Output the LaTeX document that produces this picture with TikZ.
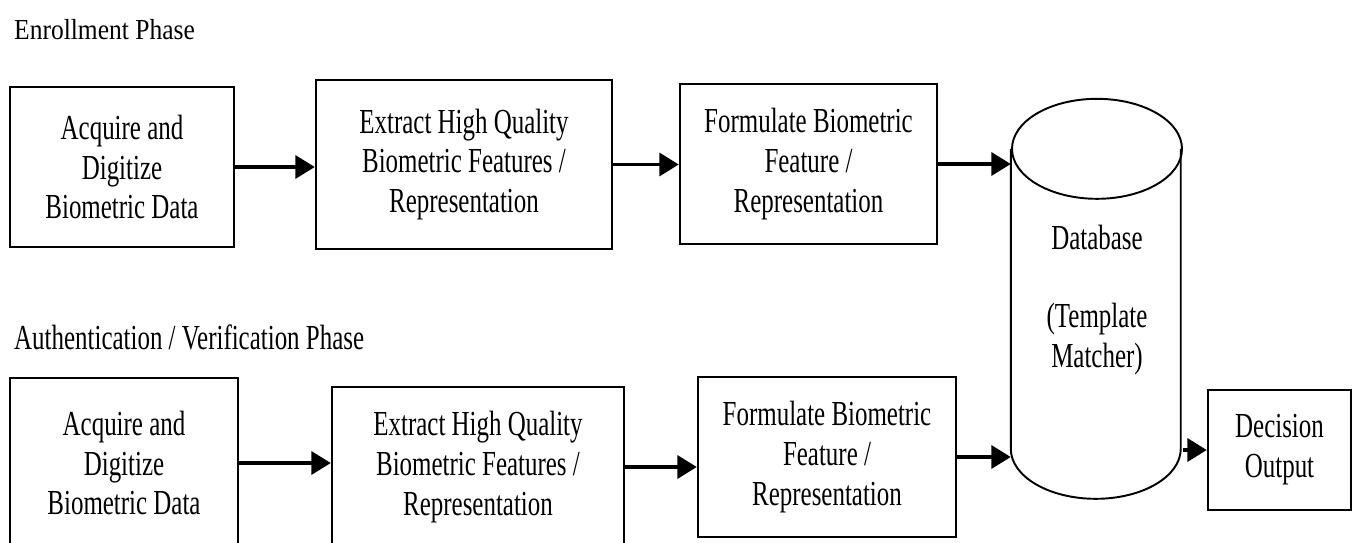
\documentclass[tikz,border=0pt]{standalone}
\usepackage{fontspec}
\setmainfont[FakeStretch=0.71]{Liberation Serif}
\newfontfamily\phasefont[FakeStretch=0.88]{Liberation Serif}
\usepackage{tikz}
\usetikzlibrary{arrows.meta}

\begin{document}
\begin{tikzpicture}[x=0.02cm, y=-0.02cm, main/.style={rectangle, draw, line width=1.4pt, inner sep=0pt, align=center, font=\fontsize{20}{22.7}\selectfont}, arr/.style={-{Triangle[length=11pt, width=13pt]}, line width=2pt}]
        \useasboundingbox (0,0) rectangle (1356,542);
        \node[anchor=west, font=\phasefont\fontsize{16.5}{19}\selectfont] (enroll) at (8,30) {Enrollment Phase};
        \node[anchor=west, font=\fontsize{20}{22.7}\selectfont] (auth) at (8,337) {Authentication / Verification Phase};
        % enrollment row
        \node[main, minimum width=4.48cm, minimum height=3.2cm] (acq1) at (122,167) {Acquire and\\Digitize\\Biometric Data};
        \node[main, minimum width=5.92cm, minimum height=3.38cm] (ext1) at (464,164.5) {Extract High Quality\\Biometric Features /\\Representation};
        \node[main, minimum width=5.14cm, minimum height=3.2cm] (form1) at (808.5,164) {Formulate Biometric\\Feature /\\Representation};
        % verification row
        \node[main, minimum width=4.56cm, minimum height=3.4cm] (acq2) at (124,463) {Acquire and\\Digitize\\Biometric Data};
        \node[main, minimum width=5.84cm, minimum height=3.2cm] (ext2) at (478,467) {Extract High Quality\\Biometric Features /\\Representation};
        \node[main, minimum width=5.16cm, minimum height=3.2cm] (form2) at (827,457) {Formulate Biometric\\Feature /\\Representation};
        \node[main, minimum width=2.86cm, minimum height=2.4cm] (dec) at (1279.5,450) {Decision\\Output};
        % database
        \node[main, draw=none, minimum width=3.4cm, minimum height=8cm] (db) at (1097,300) {Database\\[22pt](Template\\Matcher)};
        \draw[line width=1.1pt] (db.north) ++(0,50) ellipse [x radius=1.7cm, y radius=1cm];
        \draw[line width=1.1pt] (db.north west) ++(0,50) -- ++(0,300) arc[start angle=180, end angle=360, x radius=1.7cm, y radius=1cm] -- ++(0,-300);
        \draw[arr] (acq1) -- (acq1 -| ext1.west);
        \draw[arr] (ext1) -- (ext1 -| form1.west);
        \draw[arr] (form1) -- (form1 -| db.west);
        \draw[arr] (acq2) -- (acq2 -| ext2.west);
        \draw[arr] (ext2) -- (ext2 -| form2.west);
        \draw[arr] (form2) -- (form2 -| db.west);
        \draw[arr] (dec -| db.east) -- (dec);
    \end{tikzpicture}
\end{document}
